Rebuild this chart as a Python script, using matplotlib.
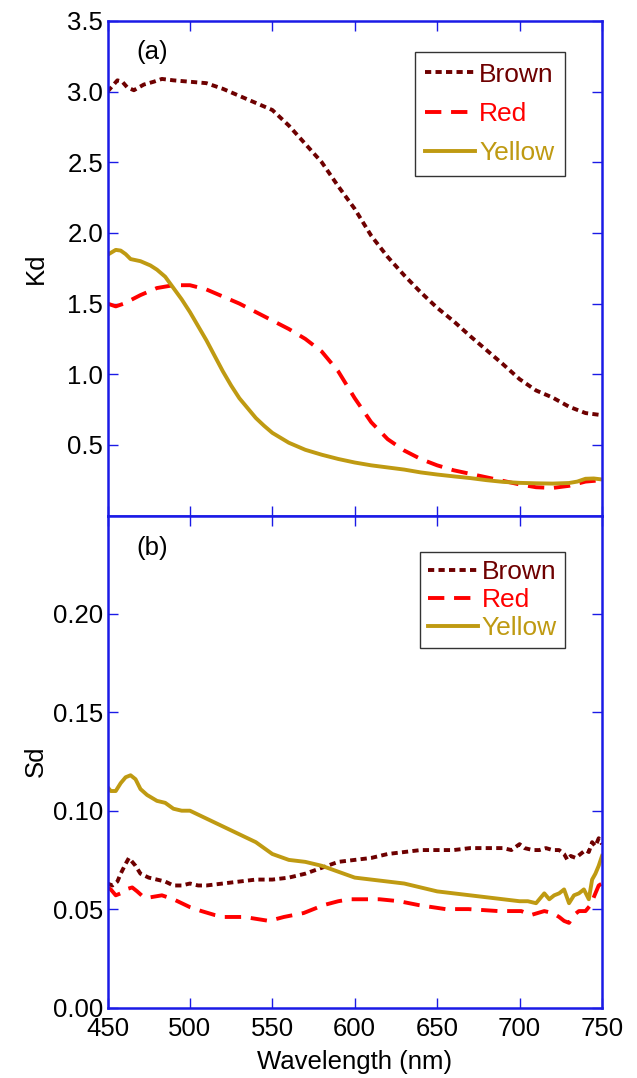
import matplotlib
matplotlib.use("Agg")
import matplotlib.pyplot as plt
from matplotlib.ticker import FixedLocator, FormatStrFormatter

plt.rcParams['font.family'] = ['Liberation Sans', 'DejaVu Sans']

# ---------------- data: panel (a) Kd ----------------
wl_a_brown = [450, 453, 456, 459, 462, 466, 472, 478, 483, 490, 500, 510, 520, 530, 540, 550,
              560, 570, 580, 590, 600, 610, 620, 630, 640, 650, 660, 670, 680, 690, 700, 710,
              720, 730, 740, 750]
kd_brown = [3.00, 3.04, 3.08, 3.07, 3.03, 3.01, 3.05, 3.07, 3.09, 3.08, 3.07, 3.06, 3.02, 2.97,
            2.92, 2.87, 2.76, 2.63, 2.50, 2.33, 2.17, 1.98, 1.83, 1.70, 1.58, 1.47, 1.375, 1.27,
            1.17, 1.07, 0.965, 0.885, 0.835, 0.77, 0.725, 0.71]

wl_a_red = [450, 455, 460, 470, 480, 490, 500, 510, 520, 530, 540, 550, 560, 570, 580, 590,
            600, 610, 620, 630, 640, 650, 660, 670, 680, 690, 700, 710, 720, 730, 740, 750]
kd_red = [1.50, 1.48, 1.50, 1.56, 1.61, 1.63, 1.63, 1.60, 1.55, 1.50, 1.44, 1.38, 1.32, 1.25,
          1.16, 1.02, 0.83, 0.66, 0.54, 0.46, 0.40, 0.355, 0.32, 0.295, 0.27, 0.245, 0.22,
          0.20, 0.195, 0.21, 0.24, 0.25]

wl_a_yellow = [450, 455, 458, 461, 464, 470, 476, 480, 485, 490, 495, 500, 505, 510, 515, 520,
               525, 530, 535, 540, 545, 550, 560, 570, 580, 590, 600, 610, 620, 630, 640, 650,
               660, 670, 680, 690, 700, 710, 720, 730, 735, 740, 745, 750]
kd_yellow = [1.845, 1.88, 1.875, 1.85, 1.815, 1.80, 1.77, 1.74, 1.69, 1.61, 1.53, 1.44, 1.34,
             1.24, 1.13, 1.02, 0.92, 0.83, 0.76, 0.69, 0.635, 0.585, 0.515, 0.465, 0.43, 0.40,
             0.375, 0.355, 0.34, 0.325, 0.305, 0.29, 0.277, 0.265, 0.25, 0.238, 0.231, 0.228,
             0.226, 0.23, 0.24, 0.26, 0.262, 0.255]

# ---------------- data: panel (b) Sd ----------------
wl_b_yellow = [450, 452, 455, 458, 461, 464, 467, 470, 474, 480, 485, 490, 495, 500, 505, 510,
               520, 530, 540, 550, 560, 570, 580, 590, 600, 610, 620, 630, 640, 650, 660, 670,
               680, 690, 700, 705, 710, 713, 715, 718, 721, 724, 727, 730, 733, 736, 739, 742,
               744, 746, 748, 750]
sd_yellow = [0.112, 0.110, 0.110, 0.114, 0.117, 0.118, 0.116, 0.111, 0.108, 0.105, 0.104,
             0.101, 0.100, 0.100, 0.098, 0.096, 0.092, 0.088, 0.084, 0.078, 0.075, 0.074,
             0.072, 0.069, 0.066, 0.065, 0.064, 0.063, 0.061, 0.059, 0.058, 0.057, 0.056,
             0.055, 0.054, 0.054, 0.053, 0.056, 0.058, 0.055, 0.057, 0.058, 0.060, 0.053,
             0.057, 0.058, 0.060, 0.055, 0.065, 0.068, 0.072, 0.077]

wl_b_brown = [450, 453, 456, 458, 461, 463, 465, 467, 470, 475, 480, 485, 490, 495, 500, 505,
              510, 520, 530, 540, 550, 560, 570, 580, 590, 600, 610, 620, 630, 640, 650, 660,
              670, 680, 690, 695, 700, 703, 708, 712, 716, 720, 724, 727, 729, 731, 734, 737,
              740, 742, 744, 746, 748, 750]
sd_brown = [0.063, 0.062, 0.064, 0.068, 0.073, 0.076, 0.074, 0.072, 0.068, 0.066, 0.065,
            0.064, 0.062, 0.062, 0.063, 0.062, 0.062, 0.063, 0.064, 0.065, 0.065, 0.066,
            0.068, 0.071, 0.074, 0.075, 0.076, 0.078, 0.079, 0.080, 0.080, 0.080, 0.081,
            0.081, 0.081, 0.080, 0.083, 0.081, 0.080, 0.080, 0.081, 0.080, 0.080, 0.078,
            0.075, 0.077, 0.076, 0.078, 0.080, 0.079, 0.084, 0.082, 0.086, 0.083]

wl_b_red = [450, 452, 455, 458, 461, 465, 468, 472, 476, 483, 490, 495, 500, 507, 515, 521,
            533, 548, 557, 569, 575, 581, 590, 597, 605, 615, 627, 639, 655, 669, 687, 701,
            707, 715, 720, 724, 727, 730, 733, 736, 740, 743, 745, 748, 750]
sd_red = [0.061, 0.060, 0.057, 0.058, 0.060, 0.061, 0.059, 0.056, 0.056, 0.057, 0.055, 0.053,
          0.051, 0.049, 0.047, 0.046, 0.046, 0.044, 0.046, 0.048, 0.050, 0.052, 0.054, 0.055,
          0.055, 0.055, 0.054, 0.052, 0.050, 0.050, 0.049, 0.049, 0.047, 0.049, 0.048, 0.046,
          0.044, 0.043, 0.047, 0.049, 0.049, 0.052, 0.056, 0.062, 0.063]

series_names = ["Brown", "Red", "Yellow"]
xticks = [450, 500, 550, 600, 650, 700, 750]
kd_ticks = [0.5, 1.0, 1.5, 2.0, 2.5, 3.0, 3.5]
sd_ticks = [0.00, 0.05, 0.10, 0.15, 0.20]

# ---------------- styles ----------------
C_BROWN = '#6E0000'
C_RED = '#FF0000'
C_YELLOW = '#BF9A12'
C_AX = '#1A1AE6'
LW = 2.8
FS = 18.5

fig = plt.figure(figsize=(6.37, 10.78), dpi=100)
L, W = 107.5 / 637, 494.5 / 637
ax1 = fig.add_axes([L, 1 - 515.5 / 1078, W, 494.5 / 1078])
ax2 = fig.add_axes([L, 1 - 1007.5 / 1078, W, 492 / 1078])


def style(ax):
    for s in ax.spines.values():
        s.set_color(C_AX)
        s.set_linewidth(1.8)
    ax.tick_params(which='both', direction='in', color=C_AX, width=1.0, length=7,
                   top=True, right=True, labelsize=FS, labelcolor='black')
    ax.tick_params(axis='x', pad=7)
    ax.tick_params(axis='y', pad=3)
    ax.set_xlim(450, 750)
    ax.xaxis.set_major_locator(FixedLocator(xticks))


def draw(ax, xb, yb, xr, yr, xy, yy):
    hb, = ax.plot(xb, yb, color=C_BROWN, lw=LW, linestyle=(0, (1.6, 1.1)),
                  dash_capstyle='butt', label=series_names[0])
    hr, = ax.plot(xr, yr, color=C_RED, lw=LW, linestyle=(0, (4.2, 2.5)),
                  dash_capstyle='butt', label=series_names[1])
    hy, = ax.plot(xy, yy, color=C_YELLOW, lw=LW, linestyle='-', label=series_names[2])
    return [hb, hr, hy]


# panel (a)
style(ax1)
h1 = draw(ax1, wl_a_brown, kd_brown, wl_a_red, kd_red, wl_a_yellow, kd_yellow)
ax1.set_ylim(0, 3.5)
ax1.yaxis.set_major_locator(FixedLocator(kd_ticks))
ax1.yaxis.set_major_formatter(FormatStrFormatter('%.1f'))
ax1.tick_params(axis='x', labelbottom=False)
ax1.set_ylabel('Kd', fontsize=FS)
ax1.yaxis.set_label_coords(-0.12, 0.5)
ax1.text(0.09, 0.937, '(a)', transform=ax1.transAxes, fontsize=FS, ha='center', va='center')
leg1 = ax1.legend(handles=h1, loc='upper right', bbox_to_anchor=(0.925, 0.937),
                  borderaxespad=0, fontsize=19, handlelength=1.9, handletextpad=0.15,
                  labelspacing=0.58, borderpad=0.4, fancybox=False, framealpha=1,
                  edgecolor='#333333')
leg1.get_frame().set_linewidth(1.0)
for t, c in zip(leg1.get_texts(), [C_BROWN, C_RED, C_YELLOW]):
    t.set_color(c)

# panel (b)
style(ax2)
h2 = draw(ax2, wl_b_brown, sd_brown, wl_b_red, sd_red, wl_b_yellow, sd_yellow)
ax2.set_ylim(0, 0.25)
ax2.yaxis.set_major_locator(FixedLocator(sd_ticks))
ax2.yaxis.set_major_formatter(FormatStrFormatter('%.2f'))
ax2.set_ylabel('Sd', fontsize=FS)
ax2.yaxis.set_label_coords(-0.12, 0.5)
ax2.set_xlabel('Wavelength (nm)', fontsize=FS, labelpad=6)
ax2.text(0.09, 0.934, '(b)', transform=ax2.transAxes, fontsize=FS, ha='center', va='center')
leg2 = ax2.legend(handles=h2, loc='upper right', bbox_to_anchor=(0.925, 0.925),
                  borderaxespad=0, fontsize=19, handlelength=1.9, handletextpad=0.15,
                  labelspacing=0.15, borderpad=0.3, fancybox=False, framealpha=1,
                  edgecolor='#333333')
leg2.get_frame().set_linewidth(1.0)
for t, c in zip(leg2.get_texts(), [C_BROWN, C_RED, C_YELLOW]):
    t.set_color(c)

fig.savefig('out.png', dpi=100)
